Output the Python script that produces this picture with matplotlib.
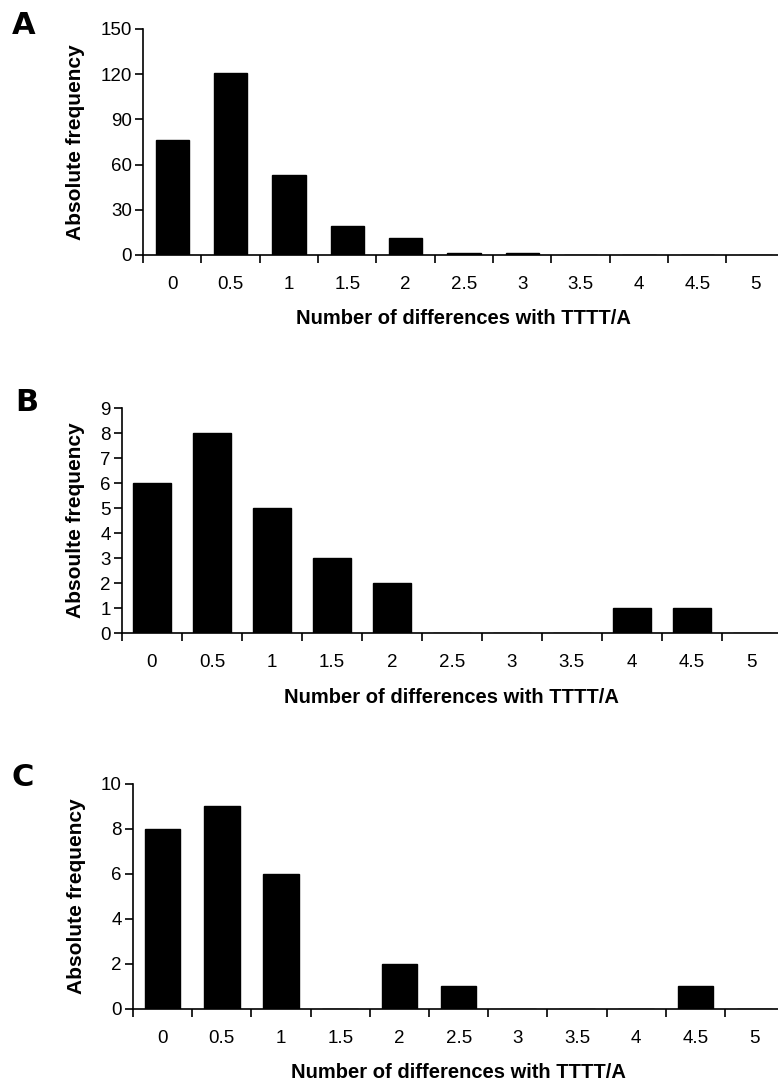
import numpy as np
import matplotlib.pyplot as plt

plt.rcParams['font.family'] = ['Liberation Sans', 'DejaVu Sans']

categories = ['0', '0.5', '1', '1.5', '2', '2.5', '3', '3.5', '4', '4.5', '5']
freq_a = [76, 121, 53, 19, 11, 1, 1, 0, 0, 0, 0]
freq_b = [6, 8, 5, 3, 2, 0, 0, 0, 1, 1, 0]
freq_c = [8, 9, 6, 0, 2, 1, 0, 0, 0, 1, 0]

xlabel = 'Number of differences with TTTT/A'

panels = [
    # letter, data, ylabel, yticks, axes rect, bar width, letter pos
    ('A', freq_a, 'Absolute frequency', [0, 30, 60, 90, 120, 150],
     [0.1838, 0.7648, 0.825, 0.2085], 0.57, (0.015, 0.963)),
    ('B', freq_b, 'Absoulte frequency', list(range(10)),
     [0.1568, 0.4160, 0.848, 0.2076], 0.63, (0.020, 0.615)),
    ('C', freq_c, 'Absolute frequency', [0, 2, 4, 6, 8, 10],
     [0.1710, 0.0692, 0.837, 0.2076], 0.60, (0.015, 0.269)),
]

fig = plt.figure(figsize=(7.78, 10.84), dpi=100)

for letter, data, ylab, yt, rect, bw, lpos in panels:
    ax = fig.add_axes(rect)
    x = np.arange(len(categories))
    ax.bar(x, data, width=bw, color='black', edgecolor='black')
    ax.set_xlim(-0.5, len(categories) - 0.5)
    ax.set_ylim(0, yt[-1])
    ax.set_yticks(yt)
    ax.set_xticks(x)
    ax.set_xticklabels(categories)
    ax.set_xticks(np.arange(len(categories) + 1) - 0.5, minor=True)
    ax.tick_params(axis='x', which='major', length=0, pad=15, labelsize=13.5)
    ax.tick_params(axis='x', which='minor', length=6, width=1.2, direction='out')
    ax.tick_params(axis='y', length=6, width=1.2, direction='out', labelsize=13.5, pad=2)
    for s in ['top', 'right']:
        ax.spines[s].set_visible(False)
    for s in ['left', 'bottom']:
        ax.spines[s].set_linewidth(1.2)
    ax.set_xlabel(xlabel, fontsize=14.5, fontweight='bold', labelpad=12)
    ax.set_ylabel(ylab, fontsize=15, fontweight='bold', labelpad=11)
    fig.text(lpos[0], lpos[1], letter, fontsize=22, fontweight='black',
             family='DejaVu Sans', va='bottom')

fig.savefig('out.png', dpi=100)
